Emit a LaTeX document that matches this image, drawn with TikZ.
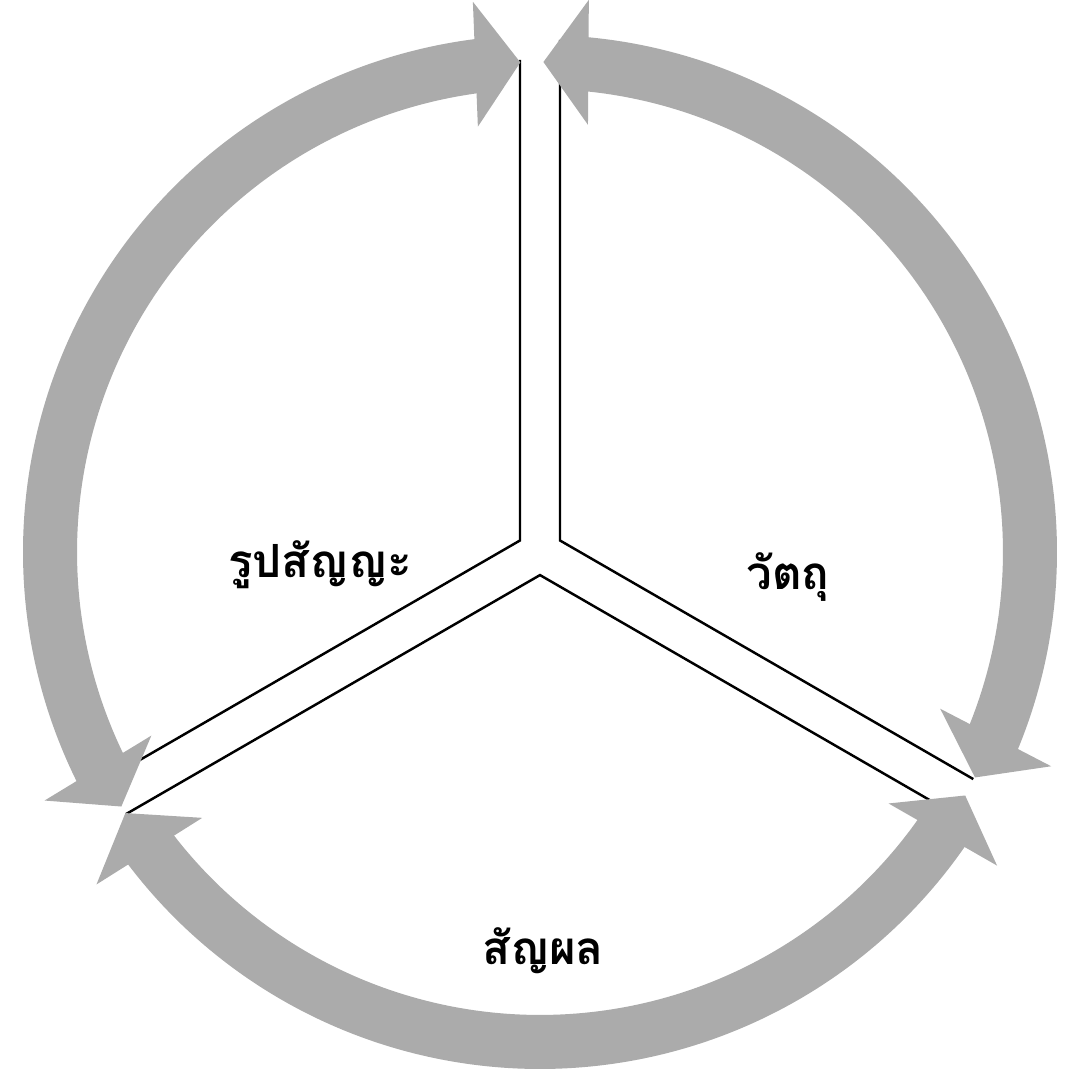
\documentclass[tikz,border=0pt]{standalone}
\usepackage{fontspec}
\newfontfamily\thaifont[Script=Thai]{Loma}
\usepackage{tikz}
\definecolor{arcgray}{RGB}{171,171,171}

\begin{document}
\begin{tikzpicture}[x=0.01cm,y=0.01cm,
    shaft/.style={draw=arcgray, line width=0.54cm},
    divline/.style={draw=black, line width=0.7pt},
    phase/.style={font=\thaifont\bfseries\fontsize{13}{15}\selectfont, anchor=base}]
    \useasboundingbox (-540,-525) rectangle (538,552);

    \coordinate (lc) at (-20,11.5);
    \coordinate (rc) at (20,11.5);
    \coordinate (bc) at (0,-23.1);
    \coordinate (lt) at (-20,492);
    \coordinate (rt) at (20,512);
    \coordinate (ll) at (-414,-216);
    \coordinate (bl) at (-414.3,-262.3);
    \coordinate (rr) at (433.3,-227.1);
    \coordinate (br) at (398.4,-253.1);

    \draw[divline] (lt) -- (lc) -- (ll);
    \draw[divline] (rt) -- (rc) -- (rr);
    \draw[divline] (bl) -- (bc) -- (br);

    % arc shafts
    \draw[shaft] (96.6:490) arc[start angle=96.6, end angle=207, radius=490];
    \draw[shaft] (85.3:490) arc[start angle=85.3, end angle=-23.1, radius=490];
    \draw[shaft] (216.5:490) arc[start angle=216.5, end angle=325.9, radius=490];

    % arrow heads
    \fill[arcgray, rotate=92.3] (490,0) -- (552.5,45) -- (427.5,45) -- cycle;
    \fill[arcgray, rotate=211.3] (490,0) -- (552.5,-45) -- (427.5,-45) -- cycle;
    \fill[arcgray, rotate=89.6] (490,0) -- (552.5,-45) -- (427.5,-45) -- cycle;
    \fill[arcgray, rotate=-27.4] (490,0) -- (552.5,45) -- (427.5,45) -- cycle;
    \fill[arcgray, rotate=212.2] (490,0) -- (552.5,45) -- (427.5,45) -- cycle;
    \fill[arcgray, rotate=330.2] (490,0) -- (552.5,-45) -- (427.5,-45) -- cycle;

    \node[phase] (sign) at (-220,-26) {รูปสัญญะ};
    \node[phase] (object) at (248,-38) {วัตถุ};
    \node[phase] (interp) at (3,-413) {สัญผล};
\end{tikzpicture}
\end{document}
